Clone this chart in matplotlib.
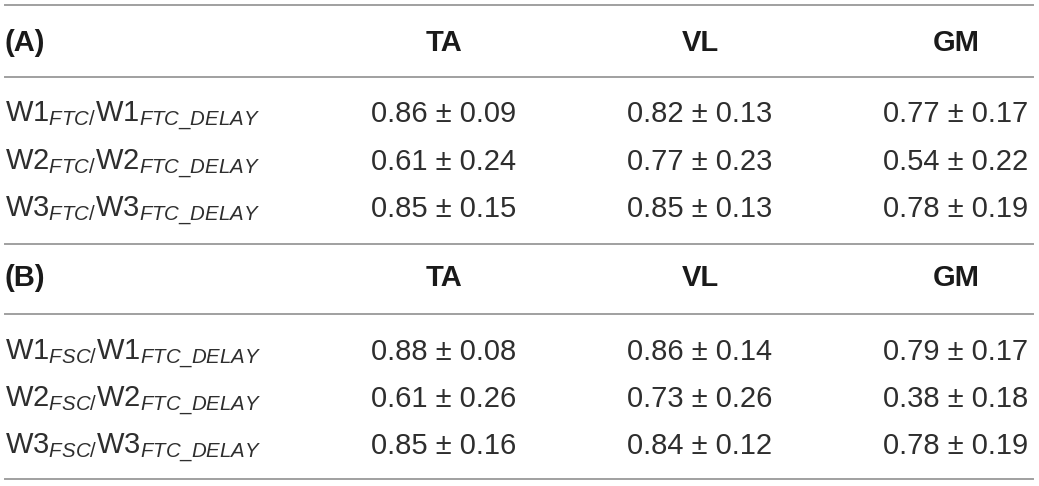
import matplotlib
matplotlib.use("Agg")
import matplotlib.pyplot as plt

plt.rcParams['font.family'] = ['Liberation Sans', 'DejaVu Sans']
plt.rcParams['mathtext.fontset'] = 'custom'
plt.rcParams['mathtext.rm'] = 'Liberation Sans'
plt.rcParams['mathtext.it'] = 'Liberation Sans:italic'
plt.rcParams['mathtext.bf'] = 'Liberation Sans:bold'

# table content
muscles = ["TA", "VL", "GM"]
panels = ["(A)", "(B)"]
rows = ["W1", "W2", "W3"]
sub_A = "FTC"
sub_B = "FSC"
mean_A = [[0.86, 0.82, 0.77], [0.61, 0.77, 0.54], [0.85, 0.85, 0.78]]
sd_A = [[0.09, 0.13, 0.17], [0.24, 0.23, 0.22], [0.15, 0.13, 0.19]]
mean_B = [[0.88, 0.86, 0.79], [0.61, 0.73, 0.38], [0.85, 0.84, 0.78]]
sd_B = [[0.08, 0.14, 0.17], [0.26, 0.26, 0.18], [0.16, 0.12, 0.19]]

# layout (pixels)
W, H = 1039, 486
col_x = [444, 700, 956]
left, right = 5, 1033
fs = 21
txt_col = '#2e2e2e'
head_col = '#1a1a1a'
line_col = '#a0a0a0'


def label(w, sub):
    return w + r"$_{\mathit{" + sub + r"}/}$" + w + r"$_{\mathit{FTC\_DELAY}}$"


def block(ax, panel, sub, means, sds, y_top, y_head, y_mid, y_rows):
    ax.plot([left, right], [y_top, y_top], color=line_col, lw=1.4)
    ax.plot([left, right], [y_mid, y_mid], color=line_col, lw=1.4)
    ax.text(left, y_head, panel, fontsize=fs, fontweight='bold',
            color=head_col, ha='left', va='center')
    for x, m in zip(col_x, muscles):
        ax.text(x, y_head, m, fontsize=fs, fontweight='bold',
                color=head_col, ha='center', va='center')
    for i, (w, y) in enumerate(zip(rows, y_rows)):
        ax.text(left, y + 10, label(w, sub), fontsize=fs, color=txt_col,
                ha='left', va='baseline')
        for j, x in enumerate(col_x):
            s = "%.2f \u00b1 %.2f" % (means[i][j], sds[i][j])
            ax.text(x, y + 10, s, fontsize=fs, color=txt_col,
                    ha='center', va='baseline')


fig = plt.figure(figsize=(W / 100, H / 100), dpi=100)
ax = fig.add_axes([0, 0, 1, 1])
ax.set_xlim(0, W)
ax.set_ylim(H, 0)
ax.axis('off')

block(ax, panels[0], sub_A, mean_A, sd_A, 5, 43, 77, [112, 160, 207])
block(ax, panels[1], sub_B, mean_B, sd_B, 244, 278, 314, [350, 397, 444])
ax.plot([left, right], [479, 479], color=line_col, lw=1.4)

fig.savefig("out.png", dpi=100, facecolor='white')
